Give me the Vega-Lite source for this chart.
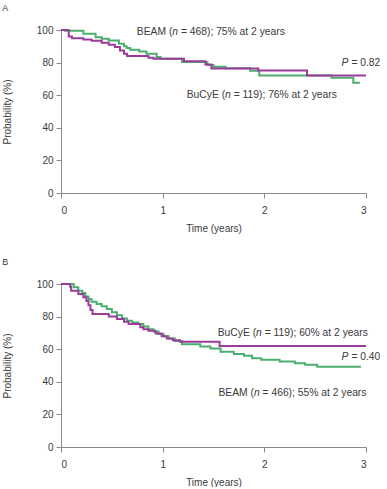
{
  "$schema": "https://vega.github.io/schema/vega-lite/v6.json",
  "padding": {"left": 2, "top": 4, "right": 0, "bottom": 0},
  "spacing": 25,
  "config": {
    "view": {"stroke": null},
    "font": "Liberation Sans",
    "axis": {
      "domainColor": "#8a8a8a",
      "tickColor": "#8a8a8a",
      "labelColor": "#3a3a3a",
      "titleColor": "#3a3a3a",
      "labelFontSize": 10,
      "titleFontSize": 10,
      "titleFontWeight": "normal",
      "grid": false,
      "tickSize": 5
    },
    "axisX": {"labelPadding": 7, "titlePadding": 8},
    "axisY": {"labelPadding": 3, "titlePadding": 24},
    "text": {"fontSize": 10.3, "color": "#3a3a3a", "baseline": "middle"}
  },
  "datasets": {
    "curvesA": [
      {"arm": "BEAM", "t": 0, "p": 100},
      {"arm": "BEAM", "t": 0.04, "p": 99.5},
      {"arm": "BEAM", "t": 0.22, "p": 97.7},
      {"arm": "BEAM", "t": 0.34, "p": 95.6},
      {"arm": "BEAM", "t": 0.40, "p": 94.6},
      {"arm": "BEAM", "t": 0.47, "p": 93.6},
      {"arm": "BEAM", "t": 0.57, "p": 91.6},
      {"arm": "BEAM", "t": 0.62, "p": 90.1},
      {"arm": "BEAM", "t": 0.645, "p": 88.9},
      {"arm": "BEAM", "t": 0.68, "p": 87.9},
      {"arm": "BEAM", "t": 0.77, "p": 86.8},
      {"arm": "BEAM", "t": 0.84, "p": 85.4},
      {"arm": "BEAM", "t": 0.94, "p": 83.4},
      {"arm": "BEAM", "t": 0.98, "p": 82.4},
      {"arm": "BEAM", "t": 1.19, "p": 80.3},
      {"arm": "BEAM", "t": 1.44, "p": 78.6},
      {"arm": "BEAM", "t": 1.50, "p": 77.4},
      {"arm": "BEAM", "t": 1.62, "p": 76.6},
      {"arm": "BEAM", "t": 1.86, "p": 75.0},
      {"arm": "BEAM", "t": 1.95, "p": 72.1},
      {"arm": "BEAM", "t": 2.66, "p": 70.7},
      {"arm": "BEAM", "t": 2.875, "p": 67.6},
      {"arm": "BEAM", "t": 2.94, "p": 67.6},
      {"arm": "BuCyE", "t": 0, "p": 100},
      {"arm": "BuCyE", "t": 0.076, "p": 96},
      {"arm": "BuCyE", "t": 0.108, "p": 95},
      {"arm": "BuCyE", "t": 0.22, "p": 94.2},
      {"arm": "BuCyE", "t": 0.30, "p": 93.4},
      {"arm": "BuCyE", "t": 0.40, "p": 92.2},
      {"arm": "BuCyE", "t": 0.47, "p": 91},
      {"arm": "BuCyE", "t": 0.53, "p": 89.5},
      {"arm": "BuCyE", "t": 0.58, "p": 87.5},
      {"arm": "BuCyE", "t": 0.62, "p": 85.4},
      {"arm": "BuCyE", "t": 0.65, "p": 84},
      {"arm": "BuCyE", "t": 0.86, "p": 83},
      {"arm": "BuCyE", "t": 0.91, "p": 82.4},
      {"arm": "BuCyE", "t": 1.21, "p": 80.9},
      {"arm": "BuCyE", "t": 1.42, "p": 78.9},
      {"arm": "BuCyE", "t": 1.48, "p": 76.4},
      {"arm": "BuCyE", "t": 1.94, "p": 75.2},
      {"arm": "BuCyE", "t": 2.42, "p": 72.1},
      {"arm": "BuCyE", "t": 3.0, "p": 72.1}
    ],
    "curvesB": [
      {"arm": "BEAM", "t": 0, "p": 100},
      {"arm": "BEAM", "t": 0.125, "p": 98},
      {"arm": "BEAM", "t": 0.17, "p": 95.9},
      {"arm": "BEAM", "t": 0.21, "p": 94.5},
      {"arm": "BEAM", "t": 0.24, "p": 92.4},
      {"arm": "BEAM", "t": 0.27, "p": 90.8},
      {"arm": "BEAM", "t": 0.30, "p": 89.1},
      {"arm": "BEAM", "t": 0.35, "p": 87.7},
      {"arm": "BEAM", "t": 0.40, "p": 86.3},
      {"arm": "BEAM", "t": 0.45, "p": 84.6},
      {"arm": "BEAM", "t": 0.50, "p": 82.6},
      {"arm": "BEAM", "t": 0.55, "p": 80.9},
      {"arm": "BEAM", "t": 0.60, "p": 78.9},
      {"arm": "BEAM", "t": 0.65, "p": 77.4},
      {"arm": "BEAM", "t": 0.70, "p": 76.4},
      {"arm": "BEAM", "t": 0.76, "p": 75.4},
      {"arm": "BEAM", "t": 0.81, "p": 74},
      {"arm": "BEAM", "t": 0.86, "p": 72.3},
      {"arm": "BEAM", "t": 0.91, "p": 70.9},
      {"arm": "BEAM", "t": 0.96, "p": 69.3},
      {"arm": "BEAM", "t": 1.01, "p": 67.9},
      {"arm": "BEAM", "t": 1.06, "p": 66.6},
      {"arm": "BEAM", "t": 1.12, "p": 65},
      {"arm": "BEAM", "t": 1.19, "p": 63.1},
      {"arm": "BEAM", "t": 1.37, "p": 61.7},
      {"arm": "BEAM", "t": 1.47, "p": 60.5},
      {"arm": "BEAM", "t": 1.57, "p": 58.5},
      {"arm": "BEAM", "t": 1.70, "p": 57},
      {"arm": "BEAM", "t": 1.80, "p": 56},
      {"arm": "BEAM", "t": 1.88, "p": 54.5},
      {"arm": "BEAM", "t": 1.97, "p": 53.5},
      {"arm": "BEAM", "t": 2.15, "p": 52.5},
      {"arm": "BEAM", "t": 2.30, "p": 51.4},
      {"arm": "BEAM", "t": 2.40, "p": 50.4},
      {"arm": "BEAM", "t": 2.52, "p": 49.2},
      {"arm": "BEAM", "t": 2.95, "p": 49.2},
      {"arm": "BuCyE", "t": 0, "p": 100},
      {"arm": "BuCyE", "t": 0.09, "p": 98.3},
      {"arm": "BuCyE", "t": 0.10, "p": 95.9},
      {"arm": "BuCyE", "t": 0.17, "p": 93.9},
      {"arm": "BuCyE", "t": 0.22, "p": 91.8},
      {"arm": "BuCyE", "t": 0.25, "p": 89.5},
      {"arm": "BuCyE", "t": 0.27, "p": 87},
      {"arm": "BuCyE", "t": 0.29, "p": 84},
      {"arm": "BuCyE", "t": 0.31, "p": 81.6},
      {"arm": "BuCyE", "t": 0.47, "p": 80.1},
      {"arm": "BuCyE", "t": 0.55, "p": 78.5},
      {"arm": "BuCyE", "t": 0.62, "p": 76.8},
      {"arm": "BuCyE", "t": 0.665, "p": 75.4},
      {"arm": "BuCyE", "t": 0.78, "p": 73.4},
      {"arm": "BuCyE", "t": 0.81, "p": 72.3},
      {"arm": "BuCyE", "t": 0.86, "p": 71.3},
      {"arm": "BuCyE", "t": 0.93, "p": 69.7},
      {"arm": "BuCyE", "t": 0.99, "p": 67.9},
      {"arm": "BuCyE", "t": 1.04, "p": 66.6},
      {"arm": "BuCyE", "t": 1.10, "p": 65.5},
      {"arm": "BuCyE", "t": 1.17, "p": 64.5},
      {"arm": "BuCyE", "t": 1.56, "p": 61.9},
      {"arm": "BuCyE", "t": 3.0, "p": 61.9}
    ],
    "notesA": [
      {"t": 1.095, "p": 98.7, "pre": "BEAM (", "it": "n", "post": "= 468); 75% at 2 years"},
      {"t": 1.614, "p": 60, "pre": "BuCyE (", "it": "n", "post": "= 119); 76% at 2 years"},
      {"t": 2.76, "p": 79.5, "pre": "", "it": "P", "post": "= 0.82"}
    ],
    "notesB": [
      {"t": 1.919, "p": 70, "pre": "BuCyE (", "it": "n", "post": "= 119); 60% at 2 years"},
      {"t": 1.898, "p": 33, "pre": "BEAM (", "it": "n", "post": "= 466); 55% at 2 years"},
      {"t": 2.76, "p": 55, "pre": "", "it": "P", "post": "= 0.40"}
    ]
  },
  "vconcat": [
    {
      "title": {"text": "A", "anchor": "start", "frame": "bounds", "fontSize": 9, "fontWeight": "normal", "color": "#3a3a3a", "offset": 12},
      "width": 305,
      "height": 163,
      "encoding": {
        "x": {"field": "t", "type": "quantitative", "scale": {"domain": [0, 3], "nice": false}, "axis": {"values": [0, 1, 2, 3], "title": "Time (years)"}},
        "y": {"field": "p", "type": "quantitative", "scale": {"domain": [0, 100], "nice": false}, "axis": {"values": [0, 20, 40, 60, 80, 100], "title": "Probability (%)"}}
      },
      "layer": [
        {
          "data": {"name": "curvesA"},
          "mark": {"type": "line", "interpolate": "step-after", "strokeWidth": 2},
          "encoding": {"color": {"field": "arm", "type": "nominal", "scale": {"domain": ["BEAM", "BuCyE"], "range": ["#4cae6e", "#9b3b9b"]}, "legend": null}}
        },
        {"data": {"name": "notesA"}, "mark": {"type": "text", "align": "right"}, "encoding": {"text": {"field": "pre"}}},
        {"data": {"name": "notesA"}, "mark": {"type": "text", "align": "left", "fontStyle": "italic"}, "encoding": {"text": {"field": "it"}}},
        {"data": {"name": "notesA"}, "transform": [{"filter": "datum.it === 'n'"}], "mark": {"type": "text", "align": "left", "dx": 8.6}, "encoding": {"text": {"field": "post"}}},
        {"data": {"name": "notesA"}, "transform": [{"filter": "datum.it === 'P'"}], "mark": {"type": "text", "align": "left", "dx": 9.8}, "encoding": {"text": {"field": "post"}}}
      ]
    },
    {
      "title": {"text": "B", "anchor": "start", "frame": "bounds", "fontSize": 9, "fontWeight": "normal", "color": "#3a3a3a", "offset": 12},
      "width": 305,
      "height": 163,
      "encoding": {
        "x": {"field": "t", "type": "quantitative", "scale": {"domain": [0, 3], "nice": false}, "axis": {"values": [0, 1, 2, 3], "title": "Time (years)"}},
        "y": {"field": "p", "type": "quantitative", "scale": {"domain": [0, 100], "nice": false}, "axis": {"values": [0, 20, 40, 60, 80, 100], "title": "Probability (%)"}}
      },
      "layer": [
        {
          "data": {"name": "curvesB"},
          "mark": {"type": "line", "interpolate": "step-after", "strokeWidth": 2},
          "encoding": {"color": {"field": "arm", "type": "nominal", "scale": {"domain": ["BEAM", "BuCyE"], "range": ["#4cae6e", "#9b3b9b"]}, "legend": null}}
        },
        {"data": {"name": "notesB"}, "mark": {"type": "text", "align": "right"}, "encoding": {"text": {"field": "pre"}}},
        {"data": {"name": "notesB"}, "mark": {"type": "text", "align": "left", "fontStyle": "italic"}, "encoding": {"text": {"field": "it"}}},
        {"data": {"name": "notesB"}, "transform": [{"filter": "datum.it === 'n'"}], "mark": {"type": "text", "align": "left", "dx": 8.6}, "encoding": {"text": {"field": "post"}}},
        {"data": {"name": "notesB"}, "transform": [{"filter": "datum.it === 'P'"}], "mark": {"type": "text", "align": "left", "dx": 9.8}, "encoding": {"text": {"field": "post"}}}
      ]
    }
  ]
}
